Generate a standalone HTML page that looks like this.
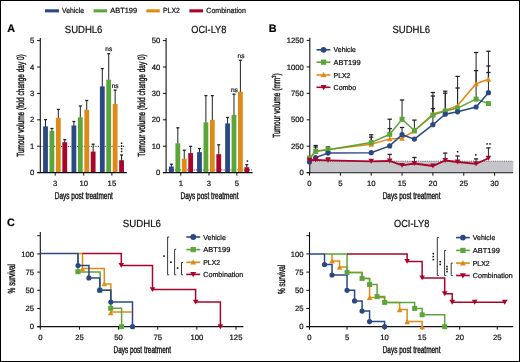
<!DOCTYPE html>
<html><head><meta charset="utf-8"><style>
html,body{margin:0;padding:0;background:#fff;}
#fig{position:relative;width:520px;height:362px;box-sizing:border-box;border:1px solid #000;overflow:hidden;background:#fff;}
svg{position:absolute;left:-1px;top:-1px;will-change:transform;}
text{font-family:"Liberation Sans", sans-serif;stroke:#111;stroke-width:0.22px;text-rendering:geometricPrecision;}
</style></head><body><div id="fig">
<svg width="520" height="362" viewBox="0 0 520 362">
<rect x="45.00" y="9.30" width="14.00" height="3.10" fill="#2b4884"/>
<text x="62.00" y="13.30" font-size="7.5" textLength="22.00" lengthAdjust="spacingAndGlyphs" fill="#111" >Vehicle</text>
<rect x="93.60" y="9.30" width="13.50" height="3.10" fill="#5ca53a"/>
<text x="110.20" y="13.30" font-size="7.5" textLength="27.00" lengthAdjust="spacingAndGlyphs" fill="#111" >ABT199</text>
<rect x="146.30" y="9.30" width="13.50" height="3.10" fill="#df8a16"/>
<text x="163.00" y="13.30" font-size="7.5" textLength="16.80" lengthAdjust="spacingAndGlyphs" fill="#111" >PLX2</text>
<rect x="189.40" y="9.30" width="13.70" height="3.10" fill="#a8052c"/>
<text x="206.30" y="13.30" font-size="7.5" textLength="39.60" lengthAdjust="spacingAndGlyphs" fill="#111" >Combination</text>
<text x="7.30" y="32.10" font-size="10.8" font-weight="bold" fill="#000" >A</text>
<text x="268.80" y="32.10" font-size="10.8" font-weight="bold" fill="#000" >B</text>
<text x="7.00" y="226.10" font-size="10.8" font-weight="bold" fill="#000" >C</text>
<text x="64.80" y="32.60" font-size="10.35" textLength="37.60" lengthAdjust="spacingAndGlyphs" fill="#111" >SUDHL6</text>
<text x="191.30" y="32.70" font-size="10.35" textLength="35.00" lengthAdjust="spacingAndGlyphs" fill="#111" >OCI-LY8</text>
<text x="392.50" y="32.70" font-size="10.35" textLength="37.60" lengthAdjust="spacingAndGlyphs" fill="#111" >SUDHL6</text>
<text x="122.80" y="226.50" font-size="10.35" textLength="38.20" lengthAdjust="spacingAndGlyphs" fill="#111" >SUDHL6</text>
<text x="394.00" y="226.60" font-size="10.35" textLength="35.30" lengthAdjust="spacingAndGlyphs" fill="#111" >OCI-LY8</text>
<line x1="40.30" y1="146.40" x2="125.60" y2="146.40" stroke="#222" stroke-width="1.0" stroke-dasharray="1 1.3"/>
<line x1="45.50" y1="126.90" x2="45.50" y2="119.50" stroke="#222" stroke-width="1.0" />
<line x1="44.00" y1="119.60" x2="47.00" y2="119.60" stroke="#222" stroke-width="1.3" />
<rect x="43.10" y="126.40" width="4.80" height="46.20" fill="#2b4884"/>
<line x1="51.92" y1="131.30" x2="51.92" y2="128.40" stroke="#222" stroke-width="1.0" />
<line x1="50.42" y1="128.50" x2="53.42" y2="128.50" stroke="#222" stroke-width="1.3" />
<rect x="49.52" y="130.80" width="4.80" height="41.80" fill="#5ca53a"/>
<line x1="58.34" y1="118.30" x2="58.34" y2="109.30" stroke="#222" stroke-width="1.0" />
<line x1="56.84" y1="109.40" x2="59.84" y2="109.40" stroke="#222" stroke-width="1.3" />
<rect x="55.94" y="117.80" width="4.80" height="54.80" fill="#df8a16"/>
<line x1="64.76" y1="142.70" x2="64.76" y2="139.60" stroke="#222" stroke-width="1.0" />
<line x1="63.26" y1="139.70" x2="66.26" y2="139.70" stroke="#222" stroke-width="1.3" />
<rect x="62.36" y="142.20" width="4.80" height="30.40" fill="#a8052c"/>
<line x1="73.90" y1="126.00" x2="73.90" y2="121.40" stroke="#222" stroke-width="1.0" />
<line x1="72.40" y1="121.50" x2="75.40" y2="121.50" stroke="#222" stroke-width="1.3" />
<rect x="71.50" y="125.50" width="4.80" height="47.10" fill="#2b4884"/>
<line x1="80.32" y1="117.70" x2="80.32" y2="105.90" stroke="#222" stroke-width="1.0" />
<line x1="78.82" y1="106.00" x2="81.82" y2="106.00" stroke="#222" stroke-width="1.3" />
<rect x="77.92" y="117.20" width="4.80" height="55.40" fill="#5ca53a"/>
<line x1="86.74" y1="110.40" x2="86.74" y2="100.40" stroke="#222" stroke-width="1.0" />
<line x1="85.24" y1="100.50" x2="88.24" y2="100.50" stroke="#222" stroke-width="1.3" />
<rect x="84.34" y="109.90" width="4.80" height="62.70" fill="#df8a16"/>
<line x1="93.16" y1="152.10" x2="93.16" y2="144.10" stroke="#222" stroke-width="1.0" />
<line x1="91.66" y1="144.20" x2="94.66" y2="144.20" stroke="#222" stroke-width="1.3" />
<rect x="90.76" y="151.60" width="4.80" height="21.00" fill="#a8052c"/>
<line x1="102.30" y1="86.90" x2="102.30" y2="68.50" stroke="#222" stroke-width="1.0" />
<line x1="100.80" y1="68.60" x2="103.80" y2="68.60" stroke="#222" stroke-width="1.3" />
<rect x="99.90" y="86.40" width="4.80" height="86.20" fill="#2b4884"/>
<line x1="108.72" y1="80.20" x2="108.72" y2="53.60" stroke="#222" stroke-width="1.0" />
<line x1="107.22" y1="53.70" x2="110.22" y2="53.70" stroke="#222" stroke-width="1.3" />
<rect x="106.32" y="79.70" width="4.80" height="92.90" fill="#5ca53a"/>
<line x1="115.14" y1="104.50" x2="115.14" y2="90.00" stroke="#222" stroke-width="1.0" />
<line x1="113.64" y1="90.10" x2="116.64" y2="90.10" stroke="#222" stroke-width="1.3" />
<rect x="112.74" y="104.00" width="4.80" height="68.60" fill="#df8a16"/>
<line x1="121.56" y1="160.70" x2="121.56" y2="154.90" stroke="#222" stroke-width="1.0" />
<line x1="120.06" y1="155.00" x2="123.06" y2="155.00" stroke="#222" stroke-width="1.3" />
<rect x="119.16" y="160.20" width="4.80" height="12.40" fill="#a8052c"/>
<line x1="40.30" y1="38.00" x2="40.30" y2="172.90" stroke="#111" stroke-width="1.1" />
<line x1="37.10" y1="172.60" x2="40.30" y2="172.60" stroke="#111" stroke-width="1" />
<text x="34.30" y="175.20" font-size="7.7" text-anchor="end" fill="#111" >0</text>
<line x1="37.10" y1="146.20" x2="40.30" y2="146.20" stroke="#111" stroke-width="1" />
<text x="34.30" y="148.80" font-size="7.7" text-anchor="end" fill="#111" >1</text>
<line x1="37.10" y1="119.80" x2="40.30" y2="119.80" stroke="#111" stroke-width="1" />
<text x="34.30" y="122.40" font-size="7.7" text-anchor="end" fill="#111" >2</text>
<line x1="37.10" y1="93.40" x2="40.30" y2="93.40" stroke="#111" stroke-width="1" />
<text x="34.30" y="96.00" font-size="7.7" text-anchor="end" fill="#111" >3</text>
<line x1="37.10" y1="67.00" x2="40.30" y2="67.00" stroke="#111" stroke-width="1" />
<text x="34.30" y="69.60" font-size="7.7" text-anchor="end" fill="#111" >4</text>
<line x1="37.10" y1="40.60" x2="40.30" y2="40.60" stroke="#111" stroke-width="1" />
<text x="34.30" y="43.20" font-size="7.7" text-anchor="end" fill="#111" >5</text>
<line x1="37.10" y1="172.60" x2="126.90" y2="172.60" stroke="#111" stroke-width="1.1" />
<line x1="55.20" y1="172.60" x2="55.20" y2="175.60" stroke="#111" stroke-width="1" />
<text x="55.20" y="185.70" font-size="7.7" text-anchor="middle" fill="#111" >3</text>
<line x1="83.70" y1="172.60" x2="83.70" y2="175.60" stroke="#111" stroke-width="1" />
<text x="83.70" y="185.70" font-size="7.7" text-anchor="middle" fill="#111" >10</text>
<line x1="111.90" y1="172.60" x2="111.90" y2="175.60" stroke="#111" stroke-width="1" />
<text x="111.90" y="185.70" font-size="7.7" text-anchor="middle" fill="#111" >15</text>
<text x="83.80" y="198.90" font-size="10.0" text-anchor="middle" textLength="58.00" lengthAdjust="spacingAndGlyphs" fill="#111" style="stroke-width:0.4px">Days post treatment</text>
<text x="24.30" y="105.50" font-size="10.3" text-anchor="middle" textLength="102.60" lengthAdjust="spacingAndGlyphs" transform="rotate(-90 24.30 105.50)" fill="#111" style="stroke-width:0.4px">Tumour volume (fold change day 0)</text>
<text x="108.80" y="51.30" font-size="6.5" text-anchor="middle" fill="#111" >ns</text>
<text x="115.20" y="88.30" font-size="6.5" text-anchor="middle" fill="#111" >ns</text>
<rect x="120.85" y="142.45" width="1.5" height="1.5" fill="#111"/>
<rect x="120.85" y="145.25" width="1.5" height="1.5" fill="#111"/>
<rect x="120.85" y="148.05" width="1.5" height="1.5" fill="#111"/>
<rect x="120.85" y="150.75" width="1.5" height="1.5" fill="#111"/>
<line x1="166.10" y1="169.90" x2="252.00" y2="169.90" stroke="#222" stroke-width="1.0" stroke-dasharray="1 1.3"/>
<line x1="171.40" y1="167.00" x2="171.40" y2="164.10" stroke="#222" stroke-width="1.0" />
<line x1="169.90" y1="164.20" x2="172.90" y2="164.20" stroke="#222" stroke-width="1.3" />
<rect x="169.00" y="166.50" width="4.80" height="6.10" fill="#2b4884"/>
<line x1="177.82" y1="143.80" x2="177.82" y2="127.70" stroke="#222" stroke-width="1.0" />
<line x1="176.32" y1="127.80" x2="179.32" y2="127.80" stroke="#222" stroke-width="1.3" />
<rect x="175.42" y="143.30" width="4.80" height="29.30" fill="#5ca53a"/>
<line x1="184.24" y1="159.30" x2="184.24" y2="150.10" stroke="#222" stroke-width="1.0" />
<line x1="182.74" y1="150.20" x2="185.74" y2="150.20" stroke="#222" stroke-width="1.3" />
<rect x="181.84" y="158.80" width="4.80" height="13.80" fill="#df8a16"/>
<line x1="190.66" y1="153.60" x2="190.66" y2="146.30" stroke="#222" stroke-width="1.0" />
<line x1="189.16" y1="146.40" x2="192.16" y2="146.40" stroke="#222" stroke-width="1.3" />
<rect x="188.26" y="153.10" width="4.80" height="19.50" fill="#a8052c"/>
<line x1="199.48" y1="152.60" x2="199.48" y2="148.40" stroke="#222" stroke-width="1.0" />
<line x1="197.98" y1="148.50" x2="200.98" y2="148.50" stroke="#222" stroke-width="1.3" />
<rect x="197.08" y="152.10" width="4.80" height="20.50" fill="#2b4884"/>
<line x1="205.90" y1="122.80" x2="205.90" y2="95.50" stroke="#222" stroke-width="1.0" />
<line x1="204.40" y1="95.60" x2="207.40" y2="95.60" stroke="#222" stroke-width="1.3" />
<rect x="203.50" y="122.30" width="4.80" height="50.30" fill="#5ca53a"/>
<line x1="212.32" y1="120.40" x2="212.32" y2="95.50" stroke="#222" stroke-width="1.0" />
<line x1="210.82" y1="95.60" x2="213.82" y2="95.60" stroke="#222" stroke-width="1.3" />
<rect x="209.92" y="119.90" width="4.80" height="52.70" fill="#df8a16"/>
<line x1="218.74" y1="154.70" x2="218.74" y2="144.70" stroke="#222" stroke-width="1.0" />
<line x1="217.24" y1="144.80" x2="220.24" y2="144.80" stroke="#222" stroke-width="1.3" />
<rect x="216.34" y="154.20" width="4.80" height="18.40" fill="#a8052c"/>
<line x1="227.56" y1="123.90" x2="227.56" y2="117.40" stroke="#222" stroke-width="1.0" />
<line x1="226.06" y1="117.50" x2="229.06" y2="117.50" stroke="#222" stroke-width="1.3" />
<rect x="225.16" y="123.40" width="4.80" height="49.20" fill="#2b4884"/>
<line x1="233.98" y1="115.40" x2="233.98" y2="94.10" stroke="#222" stroke-width="1.0" />
<line x1="232.48" y1="94.20" x2="235.48" y2="94.20" stroke="#222" stroke-width="1.3" />
<rect x="231.58" y="114.90" width="4.80" height="57.70" fill="#5ca53a"/>
<line x1="240.40" y1="92.20" x2="240.40" y2="60.20" stroke="#222" stroke-width="1.0" />
<line x1="238.90" y1="60.30" x2="241.90" y2="60.30" stroke="#222" stroke-width="1.3" />
<rect x="238.00" y="91.70" width="4.80" height="80.90" fill="#df8a16"/>
<line x1="246.82" y1="167.70" x2="246.82" y2="164.60" stroke="#222" stroke-width="1.0" />
<line x1="245.32" y1="164.70" x2="248.32" y2="164.70" stroke="#222" stroke-width="1.3" />
<rect x="244.42" y="167.20" width="4.80" height="5.40" fill="#a8052c"/>
<line x1="166.10" y1="38.00" x2="166.10" y2="172.90" stroke="#111" stroke-width="1.1" />
<line x1="162.90" y1="172.60" x2="166.10" y2="172.60" stroke="#111" stroke-width="1" />
<text x="160.20" y="175.20" font-size="7.7" text-anchor="end" fill="#111" >0</text>
<line x1="162.90" y1="146.20" x2="166.10" y2="146.20" stroke="#111" stroke-width="1" />
<text x="160.20" y="148.80" font-size="7.7" text-anchor="end" fill="#111" >10</text>
<line x1="162.90" y1="119.80" x2="166.10" y2="119.80" stroke="#111" stroke-width="1" />
<text x="160.20" y="122.40" font-size="7.7" text-anchor="end" fill="#111" >20</text>
<line x1="162.90" y1="93.40" x2="166.10" y2="93.40" stroke="#111" stroke-width="1" />
<text x="160.20" y="96.00" font-size="7.7" text-anchor="end" fill="#111" >30</text>
<line x1="162.90" y1="67.00" x2="166.10" y2="67.00" stroke="#111" stroke-width="1" />
<text x="160.20" y="69.60" font-size="7.7" text-anchor="end" fill="#111" >40</text>
<line x1="162.90" y1="40.60" x2="166.10" y2="40.60" stroke="#111" stroke-width="1" />
<text x="160.20" y="43.20" font-size="7.7" text-anchor="end" fill="#111" >50</text>
<line x1="162.90" y1="172.60" x2="252.60" y2="172.60" stroke="#111" stroke-width="1.1" />
<line x1="180.80" y1="172.60" x2="180.80" y2="175.60" stroke="#111" stroke-width="1" />
<text x="180.80" y="185.70" font-size="7.7" text-anchor="middle" fill="#111" >1</text>
<line x1="209.00" y1="172.60" x2="209.00" y2="175.60" stroke="#111" stroke-width="1" />
<text x="209.00" y="185.70" font-size="7.7" text-anchor="middle" fill="#111" >3</text>
<line x1="236.90" y1="172.60" x2="236.90" y2="175.60" stroke="#111" stroke-width="1" />
<text x="236.90" y="185.70" font-size="7.7" text-anchor="middle" fill="#111" >5</text>
<text x="209.50" y="198.90" font-size="10.0" text-anchor="middle" textLength="58.00" lengthAdjust="spacingAndGlyphs" fill="#111" style="stroke-width:0.4px">Days post treatment</text>
<text x="145.10" y="105.50" font-size="10.3" text-anchor="middle" textLength="102.60" lengthAdjust="spacingAndGlyphs" transform="rotate(-90 145.10 105.50)" fill="#111" style="stroke-width:0.4px">Tumour volume (fold change day 0)</text>
<text x="241.00" y="57.60" font-size="6.5" text-anchor="middle" fill="#111" >ns</text>
<text x="234.40" y="91.90" font-size="6.5" text-anchor="middle" fill="#111" >ns</text>
<rect x="246.65" y="160.35" width="1.5" height="1.5" fill="#111"/>
<rect x="310.30" y="161.20" width="203.00" height="11.00" fill="#c6c5ca"/>
<line x1="310.30" y1="161.20" x2="513.20" y2="161.20" stroke="#333" stroke-width="0.8" stroke-dasharray="1 1.2"/>
<line x1="309.80" y1="37.80" x2="309.80" y2="173.20" stroke="#111" stroke-width="1.1" />
<line x1="306.70" y1="172.70" x2="309.80" y2="172.70" stroke="#111" stroke-width="1" />
<text x="303.80" y="175.30" font-size="7.7" text-anchor="end" fill="#111" >0</text>
<line x1="306.70" y1="146.20" x2="309.80" y2="146.20" stroke="#111" stroke-width="1" />
<text x="303.80" y="148.80" font-size="7.7" text-anchor="end" fill="#111" >250</text>
<line x1="306.70" y1="119.80" x2="309.80" y2="119.80" stroke="#111" stroke-width="1" />
<text x="303.80" y="122.40" font-size="7.7" text-anchor="end" fill="#111" >500</text>
<line x1="306.70" y1="93.30" x2="309.80" y2="93.30" stroke="#111" stroke-width="1" />
<text x="303.80" y="95.90" font-size="7.7" text-anchor="end" fill="#111" >750</text>
<line x1="306.70" y1="66.90" x2="309.80" y2="66.90" stroke="#111" stroke-width="1" />
<text x="303.80" y="69.50" font-size="7.7" text-anchor="end" fill="#111" >1000</text>
<line x1="306.70" y1="40.40" x2="309.80" y2="40.40" stroke="#111" stroke-width="1" />
<text x="303.80" y="43.00" font-size="7.7" text-anchor="end" fill="#111" >1250</text>
<line x1="306.70" y1="172.70" x2="513.20" y2="172.70" stroke="#111" stroke-width="1.1" />
<line x1="309.50" y1="172.70" x2="309.50" y2="175.70" stroke="#111" stroke-width="1" />
<text x="309.50" y="185.80" font-size="7.7" text-anchor="middle" fill="#111" >0</text>
<line x1="340.35" y1="172.70" x2="340.35" y2="175.70" stroke="#111" stroke-width="1" />
<text x="340.35" y="185.80" font-size="7.7" text-anchor="middle" fill="#111" >5</text>
<line x1="371.20" y1="172.70" x2="371.20" y2="175.70" stroke="#111" stroke-width="1" />
<text x="371.20" y="185.80" font-size="7.7" text-anchor="middle" fill="#111" >10</text>
<line x1="402.05" y1="172.70" x2="402.05" y2="175.70" stroke="#111" stroke-width="1" />
<text x="402.05" y="185.80" font-size="7.7" text-anchor="middle" fill="#111" >15</text>
<line x1="432.90" y1="172.70" x2="432.90" y2="175.70" stroke="#111" stroke-width="1" />
<text x="432.90" y="185.80" font-size="7.7" text-anchor="middle" fill="#111" >20</text>
<line x1="463.75" y1="172.70" x2="463.75" y2="175.70" stroke="#111" stroke-width="1" />
<text x="463.75" y="185.80" font-size="7.7" text-anchor="middle" fill="#111" >25</text>
<line x1="494.60" y1="172.70" x2="494.60" y2="175.70" stroke="#111" stroke-width="1" />
<text x="494.60" y="185.80" font-size="7.7" text-anchor="middle" fill="#111" >30</text>
<text x="411.60" y="198.80" font-size="10.0" text-anchor="middle" textLength="57.80" lengthAdjust="spacingAndGlyphs" fill="#111" style="stroke-width:0.4px">Days post treatment</text>
<text x="279.7" y="105.6" font-size="10.3" text-anchor="middle" transform="rotate(-90 279.7 105.6)" fill="#111" style="stroke-width:0.4px" textLength="64.4" lengthAdjust="spacingAndGlyphs">Tumour volume (mm<tspan font-size="6" dy="-3.2">3</tspan><tspan dy="3.2">)</tspan></text>
<line x1="315.67" y1="151.00" x2="315.67" y2="145.40" stroke="#222" stroke-width="1.0" />
<line x1="313.52" y1="145.50" x2="317.82" y2="145.50" stroke="#222" stroke-width="1.3" />
<line x1="315.67" y1="151.00" x2="315.67" y2="146.90" stroke="#222" stroke-width="1.0" />
<line x1="313.52" y1="147.00" x2="317.82" y2="147.00" stroke="#222" stroke-width="1.3" />
<line x1="328.01" y1="150.00" x2="328.01" y2="146.90" stroke="#222" stroke-width="1.0" />
<line x1="325.86" y1="147.00" x2="330.16" y2="147.00" stroke="#222" stroke-width="1.3" />
<line x1="371.20" y1="143.00" x2="371.20" y2="134.70" stroke="#222" stroke-width="1.0" />
<line x1="369.05" y1="134.80" x2="373.35" y2="134.80" stroke="#222" stroke-width="1.3" />
<line x1="371.20" y1="143.00" x2="371.20" y2="137.00" stroke="#222" stroke-width="1.0" />
<line x1="369.05" y1="137.10" x2="373.35" y2="137.10" stroke="#222" stroke-width="1.3" />
<line x1="389.71" y1="134.00" x2="389.71" y2="119.10" stroke="#222" stroke-width="1.0" />
<line x1="387.56" y1="119.20" x2="391.86" y2="119.20" stroke="#222" stroke-width="1.3" />
<line x1="389.71" y1="138.00" x2="389.71" y2="128.50" stroke="#222" stroke-width="1.0" />
<line x1="387.56" y1="128.60" x2="391.86" y2="128.60" stroke="#222" stroke-width="1.3" />
<line x1="402.05" y1="119.00" x2="402.05" y2="99.90" stroke="#222" stroke-width="1.0" />
<line x1="399.90" y1="100.00" x2="404.20" y2="100.00" stroke="#222" stroke-width="1.3" />
<line x1="402.05" y1="134.00" x2="402.05" y2="127.40" stroke="#222" stroke-width="1.0" />
<line x1="399.90" y1="127.50" x2="404.20" y2="127.50" stroke="#222" stroke-width="1.3" />
<line x1="414.39" y1="130.00" x2="414.39" y2="120.00" stroke="#222" stroke-width="1.0" />
<line x1="412.24" y1="120.10" x2="416.54" y2="120.10" stroke="#222" stroke-width="1.3" />
<line x1="432.90" y1="115.00" x2="432.90" y2="92.40" stroke="#222" stroke-width="1.0" />
<line x1="430.75" y1="92.50" x2="435.05" y2="92.50" stroke="#222" stroke-width="1.3" />
<line x1="432.90" y1="115.00" x2="432.90" y2="95.90" stroke="#222" stroke-width="1.0" />
<line x1="430.75" y1="96.00" x2="435.05" y2="96.00" stroke="#222" stroke-width="1.3" />
<line x1="432.90" y1="124.00" x2="432.90" y2="108.60" stroke="#222" stroke-width="1.0" />
<line x1="430.75" y1="108.70" x2="435.05" y2="108.70" stroke="#222" stroke-width="1.3" />
<line x1="445.24" y1="111.00" x2="445.24" y2="91.10" stroke="#222" stroke-width="1.0" />
<line x1="443.09" y1="91.20" x2="447.39" y2="91.20" stroke="#222" stroke-width="1.3" />
<line x1="445.24" y1="111.00" x2="445.24" y2="93.10" stroke="#222" stroke-width="1.0" />
<line x1="443.09" y1="93.20" x2="447.39" y2="93.20" stroke="#222" stroke-width="1.3" />
<line x1="457.58" y1="106.00" x2="457.58" y2="76.30" stroke="#222" stroke-width="1.0" />
<line x1="455.43" y1="76.40" x2="459.73" y2="76.40" stroke="#222" stroke-width="1.3" />
<line x1="457.58" y1="106.00" x2="457.58" y2="87.90" stroke="#222" stroke-width="1.0" />
<line x1="455.43" y1="88.00" x2="459.73" y2="88.00" stroke="#222" stroke-width="1.3" />
<line x1="476.09" y1="84.00" x2="476.09" y2="52.40" stroke="#222" stroke-width="1.0" />
<line x1="473.94" y1="52.50" x2="478.24" y2="52.50" stroke="#222" stroke-width="1.3" />
<line x1="476.09" y1="99.00" x2="476.09" y2="70.50" stroke="#222" stroke-width="1.0" />
<line x1="473.94" y1="70.60" x2="478.24" y2="70.60" stroke="#222" stroke-width="1.3" />
<line x1="488.43" y1="80.00" x2="488.43" y2="51.10" stroke="#222" stroke-width="1.0" />
<line x1="486.28" y1="51.20" x2="490.58" y2="51.20" stroke="#222" stroke-width="1.3" />
<line x1="488.43" y1="80.00" x2="488.43" y2="65.90" stroke="#222" stroke-width="1.0" />
<line x1="486.28" y1="66.00" x2="490.58" y2="66.00" stroke="#222" stroke-width="1.3" />
<line x1="488.43" y1="93.00" x2="488.43" y2="72.40" stroke="#222" stroke-width="1.0" />
<line x1="486.28" y1="72.50" x2="490.58" y2="72.50" stroke="#222" stroke-width="1.3" />
<line x1="328.01" y1="159.80" x2="328.01" y2="157.90" stroke="#222" stroke-width="1.0" />
<line x1="325.86" y1="158.00" x2="330.16" y2="158.00" stroke="#222" stroke-width="1.3" />
<line x1="389.71" y1="160.50" x2="389.71" y2="154.30" stroke="#222" stroke-width="1.0" />
<line x1="387.56" y1="154.40" x2="391.86" y2="154.40" stroke="#222" stroke-width="1.3" />
<line x1="414.39" y1="162.90" x2="414.39" y2="157.40" stroke="#222" stroke-width="1.0" />
<line x1="412.24" y1="157.50" x2="416.54" y2="157.50" stroke="#222" stroke-width="1.3" />
<line x1="445.24" y1="160.00" x2="445.24" y2="153.00" stroke="#222" stroke-width="1.0" />
<line x1="443.09" y1="153.10" x2="447.39" y2="153.10" stroke="#222" stroke-width="1.3" />
<line x1="457.58" y1="161.50" x2="457.58" y2="155.90" stroke="#222" stroke-width="1.0" />
<line x1="455.43" y1="156.00" x2="459.73" y2="156.00" stroke="#222" stroke-width="1.3" />
<line x1="476.09" y1="163.40" x2="476.09" y2="158.80" stroke="#222" stroke-width="1.0" />
<line x1="473.94" y1="158.90" x2="478.24" y2="158.90" stroke="#222" stroke-width="1.3" />
<line x1="488.43" y1="157.60" x2="488.43" y2="147.80" stroke="#222" stroke-width="1.0" />
<line x1="486.28" y1="147.90" x2="490.58" y2="147.90" stroke="#222" stroke-width="1.3" />
<polyline points="309.50,159.20 315.67,151.50 328.01,149.50 371.20,144.20 389.71,138.90 402.05,138.20 414.39,131.00 432.90,114.00 445.24,110.50 457.58,105.60 476.09,83.70 488.43,79.20" fill="none" stroke="#df8a16" stroke-width="1.5"/>
<polygon points="306.70,161.64 312.30,161.64 309.50,156.76" fill="#df8a16"/>
<polygon points="312.87,153.94 318.47,153.94 315.67,149.06" fill="#df8a16"/>
<polygon points="325.21,151.94 330.81,151.94 328.01,147.06" fill="#df8a16"/>
<polygon points="368.40,146.64 374.00,146.64 371.20,141.76" fill="#df8a16"/>
<polygon points="386.91,141.34 392.51,141.34 389.71,136.46" fill="#df8a16"/>
<polygon points="399.25,140.64 404.85,140.64 402.05,135.76" fill="#df8a16"/>
<polygon points="411.59,133.44 417.19,133.44 414.39,128.56" fill="#df8a16"/>
<polygon points="430.10,116.44 435.70,116.44 432.90,111.56" fill="#df8a16"/>
<polygon points="442.44,112.94 448.04,112.94 445.24,108.06" fill="#df8a16"/>
<polygon points="454.78,108.04 460.38,108.04 457.58,103.16" fill="#df8a16"/>
<polygon points="473.29,86.14 478.89,86.14 476.09,81.26" fill="#df8a16"/>
<polygon points="485.63,81.64 491.23,81.64 488.43,76.76" fill="#df8a16"/>
<polyline points="309.50,158.00 315.67,151.10 328.01,149.80 371.20,142.60 389.71,134.30 402.05,119.30 414.39,130.50 432.90,115.10 445.24,111.00 457.58,108.10 476.09,99.10 488.43,103.60" fill="none" stroke="#5ca53a" stroke-width="1.5"/>
<rect x="307.00" y="155.50" width="5.0" height="5.0" fill="#5ca53a"/>
<rect x="313.17" y="148.60" width="5.0" height="5.0" fill="#5ca53a"/>
<rect x="325.51" y="147.30" width="5.0" height="5.0" fill="#5ca53a"/>
<rect x="368.70" y="140.10" width="5.0" height="5.0" fill="#5ca53a"/>
<rect x="387.21" y="131.80" width="5.0" height="5.0" fill="#5ca53a"/>
<rect x="399.55" y="116.80" width="5.0" height="5.0" fill="#5ca53a"/>
<rect x="411.89" y="128.00" width="5.0" height="5.0" fill="#5ca53a"/>
<rect x="430.40" y="112.60" width="5.0" height="5.0" fill="#5ca53a"/>
<rect x="442.74" y="108.50" width="5.0" height="5.0" fill="#5ca53a"/>
<rect x="455.08" y="105.60" width="5.0" height="5.0" fill="#5ca53a"/>
<rect x="473.59" y="96.60" width="5.0" height="5.0" fill="#5ca53a"/>
<rect x="485.93" y="101.10" width="5.0" height="5.0" fill="#5ca53a"/>
<polyline points="309.50,162.00 315.67,157.60 328.01,153.10 371.20,152.70 389.71,145.90 402.05,134.70 414.39,139.10 432.90,124.70 445.24,114.20 457.58,111.80 476.09,107.00 488.43,92.70" fill="none" stroke="#2b4884" stroke-width="1.5"/>
<circle cx="309.50" cy="162.00" r="2.6" fill="#2b4884"/>
<circle cx="315.67" cy="157.60" r="2.6" fill="#2b4884"/>
<circle cx="328.01" cy="153.10" r="2.6" fill="#2b4884"/>
<circle cx="371.20" cy="152.70" r="2.6" fill="#2b4884"/>
<circle cx="389.71" cy="145.90" r="2.6" fill="#2b4884"/>
<circle cx="402.05" cy="134.70" r="2.6" fill="#2b4884"/>
<circle cx="414.39" cy="139.10" r="2.6" fill="#2b4884"/>
<circle cx="432.90" cy="124.70" r="2.6" fill="#2b4884"/>
<circle cx="445.24" cy="114.20" r="2.6" fill="#2b4884"/>
<circle cx="457.58" cy="111.80" r="2.6" fill="#2b4884"/>
<circle cx="476.09" cy="107.00" r="2.6" fill="#2b4884"/>
<circle cx="488.43" cy="92.70" r="2.6" fill="#2b4884"/>
<polyline points="309.50,160.30 315.67,159.90 328.01,160.30 371.20,161.30 389.71,161.00 402.05,165.40 414.39,163.50 432.90,166.00 445.24,160.50 457.58,162.00 476.09,163.90 488.43,158.20" fill="none" stroke="#a8052c" stroke-width="1.8"/>
<polygon points="306.70,157.86 312.30,157.86 309.50,162.74" fill="#a8052c"/>
<polygon points="312.87,157.46 318.47,157.46 315.67,162.34" fill="#a8052c"/>
<polygon points="325.21,157.86 330.81,157.86 328.01,162.74" fill="#a8052c"/>
<polygon points="368.40,158.86 374.00,158.86 371.20,163.74" fill="#a8052c"/>
<polygon points="386.91,158.56 392.51,158.56 389.71,163.44" fill="#a8052c"/>
<polygon points="399.25,162.96 404.85,162.96 402.05,167.84" fill="#a8052c"/>
<polygon points="411.59,161.06 417.19,161.06 414.39,165.94" fill="#a8052c"/>
<polygon points="430.10,163.56 435.70,163.56 432.90,168.44" fill="#a8052c"/>
<polygon points="442.44,158.06 448.04,158.06 445.24,162.94" fill="#a8052c"/>
<polygon points="454.78,159.56 460.38,159.56 457.58,164.44" fill="#a8052c"/>
<polygon points="473.29,161.46 478.89,161.46 476.09,166.34" fill="#a8052c"/>
<polygon points="485.63,155.76 491.23,155.76 488.43,160.64" fill="#a8052c"/>
<rect x="456.85" y="150.95" width="1.5" height="1.5" fill="#111"/>
<rect x="475.05" y="154.15" width="1.5" height="1.5" fill="#111"/>
<rect x="486.35" y="143.15" width="1.5" height="1.5" fill="#111"/>
<rect x="489.25" y="143.15" width="1.5" height="1.5" fill="#111"/>
<line x1="316.50" y1="49.80" x2="330.40" y2="49.80" stroke="#2b4884" stroke-width="1.6" />
<circle cx="323.60" cy="49.80" r="2.9" fill="#2b4884"/>
<text x="333.60" y="52.40" font-size="7.2" textLength="22.30" lengthAdjust="spacingAndGlyphs" fill="#111" >Vehicle</text>
<line x1="316.50" y1="62.20" x2="330.40" y2="62.20" stroke="#5ca53a" stroke-width="1.6" />
<rect x="321.00" y="59.60" width="5.2" height="5.2" fill="#5ca53a"/>
<text x="333.60" y="64.80" font-size="7.2" textLength="27.00" lengthAdjust="spacingAndGlyphs" fill="#111" >ABT199</text>
<line x1="316.50" y1="75.00" x2="330.40" y2="75.00" stroke="#df8a16" stroke-width="1.6" />
<polygon points="320.60,77.31 326.60,77.31 323.60,72.09" fill="#df8a16"/>
<text x="333.60" y="77.60" font-size="7.2" textLength="16.80" lengthAdjust="spacingAndGlyphs" fill="#111" >PLX2</text>
<line x1="316.50" y1="87.30" x2="330.40" y2="87.30" stroke="#a8052c" stroke-width="1.6" />
<polygon points="320.60,84.99 326.60,84.99 323.60,90.21" fill="#a8052c"/>
<text x="333.60" y="89.90" font-size="7.2" textLength="22.50" lengthAdjust="spacingAndGlyphs" fill="#111" >Combo</text>
<line x1="40.30" y1="232.00" x2="40.30" y2="327.20" stroke="#111" stroke-width="1.1" />
<line x1="37.20" y1="326.70" x2="40.30" y2="326.70" stroke="#111" stroke-width="1" />
<text x="34.00" y="329.30" font-size="7.7" text-anchor="end" fill="#111" >0</text>
<line x1="37.20" y1="308.50" x2="40.30" y2="308.50" stroke="#111" stroke-width="1" />
<text x="34.00" y="311.10" font-size="7.7" text-anchor="end" fill="#111" >25</text>
<line x1="37.20" y1="290.30" x2="40.30" y2="290.30" stroke="#111" stroke-width="1" />
<text x="34.00" y="292.90" font-size="7.7" text-anchor="end" fill="#111" >50</text>
<line x1="37.20" y1="272.10" x2="40.30" y2="272.10" stroke="#111" stroke-width="1" />
<text x="34.00" y="274.70" font-size="7.7" text-anchor="end" fill="#111" >75</text>
<line x1="37.20" y1="253.90" x2="40.30" y2="253.90" stroke="#111" stroke-width="1" />
<text x="34.00" y="256.50" font-size="7.7" text-anchor="end" fill="#111" >100</text>
<line x1="37.20" y1="235.70" x2="40.30" y2="235.70" stroke="#111" stroke-width="1" />
<line x1="37.20" y1="326.70" x2="243.40" y2="326.70" stroke="#111" stroke-width="1.2" />
<line x1="40.30" y1="326.70" x2="40.30" y2="329.70" stroke="#111" stroke-width="1" />
<text x="40.30" y="339.80" font-size="7.7" text-anchor="middle" fill="#111" >0</text>
<line x1="79.44" y1="326.70" x2="79.44" y2="329.70" stroke="#111" stroke-width="1" />
<text x="79.44" y="339.80" font-size="7.7" text-anchor="middle" fill="#111" >25</text>
<line x1="118.58" y1="326.70" x2="118.58" y2="329.70" stroke="#111" stroke-width="1" />
<text x="118.58" y="339.80" font-size="7.7" text-anchor="middle" fill="#111" >50</text>
<line x1="157.72" y1="326.70" x2="157.72" y2="329.70" stroke="#111" stroke-width="1" />
<text x="157.72" y="339.80" font-size="7.7" text-anchor="middle" fill="#111" >75</text>
<line x1="196.86" y1="326.70" x2="196.86" y2="329.70" stroke="#111" stroke-width="1" />
<text x="196.86" y="339.80" font-size="7.7" text-anchor="middle" fill="#111" >100</text>
<line x1="236.00" y1="326.70" x2="236.00" y2="329.70" stroke="#111" stroke-width="1" />
<text x="236.00" y="339.80" font-size="7.7" text-anchor="middle" fill="#111" >125</text>
<text x="15.30" y="278.70" font-size="10.3" text-anchor="middle" textLength="29.40" lengthAdjust="spacingAndGlyphs" transform="rotate(-90 15.30 278.70)" fill="#111" style="stroke-width:0.4px">% survival</text>
<text x="142.30" y="353.00" font-size="10.0" text-anchor="middle" textLength="57.60" lengthAdjust="spacingAndGlyphs" fill="#111" style="stroke-width:0.4px">Days post treatment</text>
<path d="M78.00,253.50 L82.50,253.50 L82.50,268.40 L104.30,268.40 L104.30,283.90 L110.80,283.90 L110.80,312.10 L131.80,312.10" fill="none" stroke="#df8a16" stroke-width="1.5" stroke-linejoin="miter"/>
<path d="M77.90,253.50 L77.90,271.90 L100.10,271.90 L100.10,290.20 L110.70,290.20 L110.70,308.30 L121.60,308.30 L121.60,326.70" fill="none" stroke="#5ca53a" stroke-width="1.5" stroke-linejoin="miter"/>
<path d="M40.30,253.50 L78.00,253.50 L78.00,265.60 L88.90,265.60 L88.90,277.90 L99.80,277.90 L99.80,290.20 L110.80,290.20 L110.80,302.00 L132.50,302.00 L132.50,326.70" fill="none" stroke="#2b4884" stroke-width="1.5" stroke-linejoin="miter"/>
<path d="M82.50,253.50 L121.30,253.50 L121.30,265.40 L152.50,265.40 L152.50,289.60 L195.60,289.60 L195.60,302.10 L220.40,302.10 L220.40,326.70" fill="none" stroke="#a8052c" stroke-width="1.5" stroke-linejoin="miter"/>
<polygon points="79.60,271.34 85.20,271.34 82.40,266.46" fill="#df8a16"/>
<polygon points="101.50,286.34 107.10,286.34 104.30,281.46" fill="#df8a16"/>
<polygon points="107.90,315.24 113.50,315.24 110.70,310.36" fill="#df8a16"/>
<rect x="75.40" y="269.20" width="5.0" height="5.0" fill="#5ca53a"/>
<rect x="97.30" y="287.70" width="5.0" height="5.0" fill="#5ca53a"/>
<rect x="108.20" y="305.80" width="5.0" height="5.0" fill="#5ca53a"/>
<rect x="119.10" y="324.20" width="5.0" height="5.0" fill="#5ca53a"/>
<circle cx="78.00" cy="265.50" r="2.6" fill="#2b4884"/>
<circle cx="88.90" cy="277.90" r="2.6" fill="#2b4884"/>
<circle cx="99.80" cy="290.20" r="2.6" fill="#2b4884"/>
<circle cx="110.80" cy="302.00" r="2.6" fill="#2b4884"/>
<circle cx="132.50" cy="326.70" r="2.6" fill="#2b4884"/>
<polygon points="118.50,262.96 124.10,262.96 121.30,267.84" fill="#a8052c"/>
<polygon points="149.70,287.16 155.30,287.16 152.50,292.04" fill="#a8052c"/>
<polygon points="192.80,299.66 198.40,299.66 195.60,304.54" fill="#a8052c"/>
<polygon points="217.60,324.26 223.20,324.26 220.40,329.14" fill="#a8052c"/>
<line x1="186.30" y1="237.00" x2="200.20" y2="237.00" stroke="#2b4884" stroke-width="1.6" />
<circle cx="193.20" cy="237.00" r="2.9" fill="#2b4884"/>
<text x="203.30" y="239.60" font-size="7.2" textLength="22.50" lengthAdjust="spacingAndGlyphs" fill="#111" >Vehicle</text>
<line x1="186.30" y1="249.60" x2="200.20" y2="249.60" stroke="#5ca53a" stroke-width="1.6" />
<rect x="190.60" y="247.00" width="5.2" height="5.2" fill="#5ca53a"/>
<text x="203.30" y="252.20" font-size="7.2" textLength="27.00" lengthAdjust="spacingAndGlyphs" fill="#111" >ABT199</text>
<line x1="186.30" y1="262.30" x2="200.20" y2="262.30" stroke="#df8a16" stroke-width="1.6" />
<polygon points="190.20,264.61 196.20,264.61 193.20,259.39" fill="#df8a16"/>
<text x="203.30" y="264.90" font-size="7.2" textLength="16.80" lengthAdjust="spacingAndGlyphs" fill="#111" >PLX2</text>
<line x1="186.30" y1="274.40" x2="200.20" y2="274.40" stroke="#a8052c" stroke-width="1.6" />
<polygon points="190.20,272.09 196.20,272.09 193.20,277.31" fill="#a8052c"/>
<text x="203.30" y="277.00" font-size="7.2" textLength="40.00" lengthAdjust="spacingAndGlyphs" fill="#111" >Combination</text>
<path d="M169.20,237.00 L167.60,237.00 L167.60,274.80 L169.20,274.80" fill="none" stroke="#222" stroke-width="0.9"/>
<path d="M176.20,249.30 L174.60,249.30 L174.60,274.80 L176.20,274.80" fill="none" stroke="#222" stroke-width="0.9"/>
<path d="M183.10,262.50 L181.50,262.50 L181.50,274.80 L183.10,274.80" fill="none" stroke="#222" stroke-width="0.9"/>
<rect x="163.20" y="255.30" width="1.6" height="1.6" fill="#111"/>
<rect x="170.10" y="261.40" width="1.6" height="1.6" fill="#111"/>
<rect x="176.80" y="267.30" width="1.6" height="1.6" fill="#111"/>
<line x1="309.50" y1="232.00" x2="309.50" y2="327.20" stroke="#111" stroke-width="1.1" />
<line x1="306.40" y1="326.70" x2="309.50" y2="326.70" stroke="#111" stroke-width="1" />
<text x="303.60" y="329.30" font-size="7.7" text-anchor="end" fill="#111" >0</text>
<line x1="306.40" y1="308.50" x2="309.50" y2="308.50" stroke="#111" stroke-width="1" />
<text x="303.60" y="311.10" font-size="7.7" text-anchor="end" fill="#111" >25</text>
<line x1="306.40" y1="290.30" x2="309.50" y2="290.30" stroke="#111" stroke-width="1" />
<text x="303.60" y="292.90" font-size="7.7" text-anchor="end" fill="#111" >50</text>
<line x1="306.40" y1="272.10" x2="309.50" y2="272.10" stroke="#111" stroke-width="1" />
<text x="303.60" y="274.70" font-size="7.7" text-anchor="end" fill="#111" >75</text>
<line x1="306.40" y1="253.90" x2="309.50" y2="253.90" stroke="#111" stroke-width="1" />
<text x="303.60" y="256.50" font-size="7.7" text-anchor="end" fill="#111" >100</text>
<line x1="306.40" y1="235.70" x2="309.50" y2="235.70" stroke="#111" stroke-width="1" />
<line x1="306.40" y1="326.70" x2="513.20" y2="326.70" stroke="#111" stroke-width="1.2" />
<line x1="309.50" y1="326.70" x2="309.50" y2="329.70" stroke="#111" stroke-width="1" />
<text x="309.50" y="339.80" font-size="7.7" text-anchor="middle" fill="#111" >0</text>
<line x1="347.05" y1="326.70" x2="347.05" y2="329.70" stroke="#111" stroke-width="1" />
<text x="347.05" y="339.80" font-size="7.7" text-anchor="middle" fill="#111" >5</text>
<line x1="384.60" y1="326.70" x2="384.60" y2="329.70" stroke="#111" stroke-width="1" />
<text x="384.60" y="339.80" font-size="7.7" text-anchor="middle" fill="#111" >10</text>
<line x1="422.15" y1="326.70" x2="422.15" y2="329.70" stroke="#111" stroke-width="1" />
<text x="422.15" y="339.80" font-size="7.7" text-anchor="middle" fill="#111" >15</text>
<line x1="459.70" y1="326.70" x2="459.70" y2="329.70" stroke="#111" stroke-width="1" />
<text x="459.70" y="339.80" font-size="7.7" text-anchor="middle" fill="#111" >20</text>
<line x1="497.25" y1="326.70" x2="497.25" y2="329.70" stroke="#111" stroke-width="1" />
<text x="497.25" y="339.80" font-size="7.7" text-anchor="middle" fill="#111" >25</text>
<text x="284.70" y="279.40" font-size="10.3" text-anchor="middle" textLength="29.20" lengthAdjust="spacingAndGlyphs" transform="rotate(-90 284.70 279.40)" fill="#111" style="stroke-width:0.4px">% survival</text>
<text x="411.60" y="353.40" font-size="10.0" text-anchor="middle" textLength="57.80" lengthAdjust="spacingAndGlyphs" fill="#111" style="stroke-width:0.4px">Days post treatment</text>
<path d="M332.03,254.00 L332.03,261.00 L339.54,261.00 L339.54,267.00 L347.05,267.00 L347.05,272.40 L362.07,272.40 L362.07,278.40 L369.58,278.40 L369.58,297.60 L384.60,297.60 L384.60,302.50 L399.62,302.50 L399.62,309.40 L407.13,309.40 L407.13,321.40 L422.15,321.40 L422.15,326.70" fill="none" stroke="#df8a16" stroke-width="1.5" stroke-linejoin="miter"/>
<path d="M324.52,254.00 L347.05,254.00 L347.05,272.40 L362.07,272.40 L362.07,278.40 L369.58,278.40 L369.58,284.50 L377.09,284.50 L377.09,296.60 L384.60,296.60 L384.60,302.50 L414.64,302.50 L414.64,308.40 L422.15,308.40 L422.15,314.80 L444.68,314.80 L444.68,326.70" fill="none" stroke="#5ca53a" stroke-width="1.5" stroke-linejoin="miter"/>
<path d="M309.50,254.00 L324.52,254.00 L324.52,264.50 L332.03,264.50 L332.03,275.00 L347.05,275.00 L347.05,290.30 L354.56,290.30 L354.56,300.90 L362.07,300.90 L362.07,311.10 L369.58,311.10 L369.58,321.60 L384.60,321.60 L384.60,326.70" fill="none" stroke="#2b4884" stroke-width="1.5" stroke-linejoin="miter"/>
<path d="M347.05,254.00 L407.13,254.00 L407.13,261.40 L422.15,261.40 L422.15,277.90 L444.68,277.90 L444.68,293.80 L452.19,293.80 L452.19,302.30 L504.76,302.30" fill="none" stroke="#a8052c" stroke-width="1.5" stroke-linejoin="miter"/>
<polygon points="329.23,263.44 334.83,263.44 332.03,258.56" fill="#df8a16"/>
<polygon points="336.74,269.64 342.34,269.64 339.54,264.76" fill="#df8a16"/>
<polygon points="366.78,300.04 372.38,300.04 369.58,295.16" fill="#df8a16"/>
<polygon points="396.82,312.24 402.42,312.24 399.62,307.36" fill="#df8a16"/>
<polygon points="404.33,324.24 409.93,324.24 407.13,319.36" fill="#df8a16"/>
<polygon points="419.35,329.14 424.95,329.14 422.15,324.26" fill="#df8a16"/>
<rect x="344.55" y="269.90" width="5.0" height="5.0" fill="#5ca53a"/>
<rect x="359.57" y="275.90" width="5.0" height="5.0" fill="#5ca53a"/>
<rect x="367.08" y="282.00" width="5.0" height="5.0" fill="#5ca53a"/>
<rect x="374.59" y="294.10" width="5.0" height="5.0" fill="#5ca53a"/>
<rect x="382.10" y="299.90" width="5.0" height="5.0" fill="#5ca53a"/>
<rect x="412.14" y="305.90" width="5.0" height="5.0" fill="#5ca53a"/>
<rect x="419.65" y="312.30" width="5.0" height="5.0" fill="#5ca53a"/>
<rect x="442.18" y="324.20" width="5.0" height="5.0" fill="#5ca53a"/>
<circle cx="324.52" cy="264.50" r="2.6" fill="#2b4884"/>
<circle cx="332.03" cy="275.00" r="2.6" fill="#2b4884"/>
<circle cx="347.05" cy="290.30" r="2.6" fill="#2b4884"/>
<circle cx="354.56" cy="300.90" r="2.6" fill="#2b4884"/>
<circle cx="362.07" cy="311.10" r="2.6" fill="#2b4884"/>
<circle cx="369.58" cy="321.60" r="2.6" fill="#2b4884"/>
<circle cx="384.60" cy="326.70" r="2.6" fill="#2b4884"/>
<polygon points="404.33,258.96 409.93,258.96 407.13,263.84" fill="#a8052c"/>
<polygon points="419.35,275.46 424.95,275.46 422.15,280.34" fill="#a8052c"/>
<polygon points="441.88,291.36 447.48,291.36 444.68,296.24" fill="#a8052c"/>
<polygon points="449.39,299.86 454.99,299.86 452.19,304.74" fill="#a8052c"/>
<polygon points="471.92,299.86 477.52,299.86 474.72,304.74" fill="#a8052c"/>
<polygon points="501.96,299.86 507.56,299.86 504.76,304.74" fill="#a8052c"/>
<line x1="456.00" y1="237.60" x2="469.80" y2="237.60" stroke="#2b4884" stroke-width="1.6" />
<circle cx="462.90" cy="237.60" r="2.9" fill="#2b4884"/>
<text x="472.80" y="240.20" font-size="7.2" textLength="22.50" lengthAdjust="spacingAndGlyphs" fill="#111" >Vehicle</text>
<line x1="456.00" y1="250.40" x2="469.80" y2="250.40" stroke="#5ca53a" stroke-width="1.6" />
<rect x="460.30" y="247.80" width="5.2" height="5.2" fill="#5ca53a"/>
<text x="472.80" y="253.00" font-size="7.2" textLength="27.00" lengthAdjust="spacingAndGlyphs" fill="#111" >ABT199</text>
<line x1="456.00" y1="263.10" x2="469.80" y2="263.10" stroke="#df8a16" stroke-width="1.6" />
<polygon points="459.90,265.41 465.90,265.41 462.90,260.19" fill="#df8a16"/>
<text x="472.80" y="265.70" font-size="7.2" textLength="16.80" lengthAdjust="spacingAndGlyphs" fill="#111" >PLX2</text>
<line x1="456.00" y1="275.50" x2="469.80" y2="275.50" stroke="#a8052c" stroke-width="1.6" />
<polygon points="459.90,273.19 465.90,273.19 462.90,278.41" fill="#a8052c"/>
<text x="472.80" y="278.10" font-size="7.2" textLength="40.00" lengthAdjust="spacingAndGlyphs" fill="#111" >Combination</text>
<path d="M438.90,237.50 L437.30,237.50 L437.30,275.50 L438.90,275.50" fill="none" stroke="#222" stroke-width="0.9"/>
<path d="M446.20,250.40 L444.60,250.40 L444.60,275.50 L446.20,275.50" fill="none" stroke="#222" stroke-width="0.9"/>
<path d="M452.80,263.10 L451.20,263.10 L451.20,275.50 L452.80,275.50" fill="none" stroke="#222" stroke-width="0.9"/>
<rect x="432.50" y="252.80" width="1.6" height="1.6" fill="#111"/>
<rect x="432.50" y="255.80" width="1.6" height="1.6" fill="#111"/>
<rect x="432.50" y="258.80" width="1.6" height="1.6" fill="#111"/>
<rect x="439.40" y="260.90" width="1.6" height="1.6" fill="#111"/>
<rect x="439.40" y="263.60" width="1.6" height="1.6" fill="#111"/>
<rect x="446.20" y="265.80" width="1.6" height="1.6" fill="#111"/>
<rect x="446.20" y="268.30" width="1.6" height="1.6" fill="#111"/>
<rect x="446.20" y="270.80" width="1.6" height="1.6" fill="#111"/>
</svg></div></body></html>
